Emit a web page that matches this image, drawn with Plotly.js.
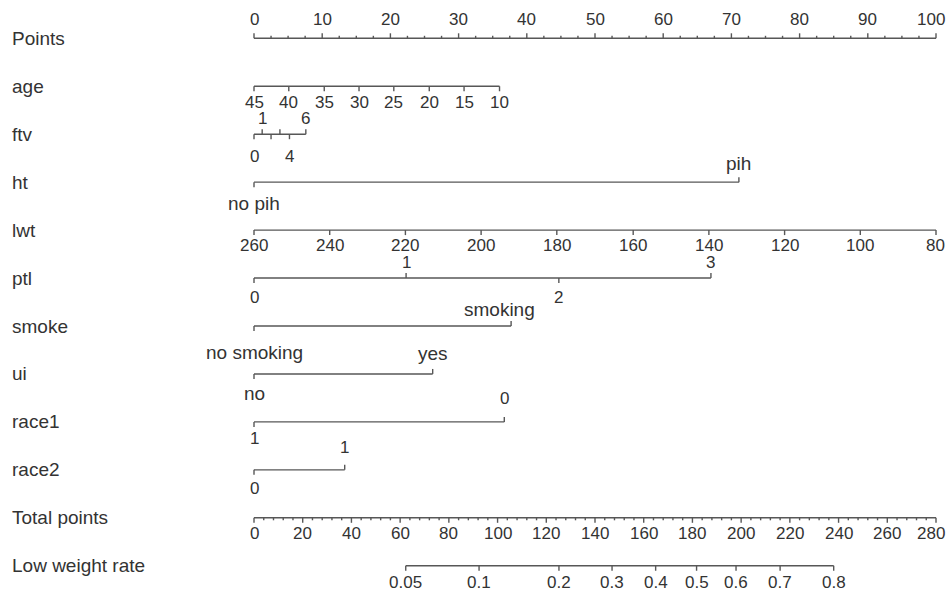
<!DOCTYPE html>
<html><head><meta charset="utf-8">
<script src="https://cdn.plot.ly/plotly-3.0.1.min.js"></script>
<style>html,body{margin:0;padding:0;background:#fff}#chart{width:946px;height:591px}</style>
</head><body><div id="chart"></div>
<script>
// ---------- data ----------
const rowNames = ['Points','age','ftv','ht','lwt','ptl','smoke','ui','race1','race2','Total points','Low weight rate'];

const pointsLabels = ['0','10','20','30','40','50','60','70','80','90','100'];
const pointsValues = [0,10,20,30,40,50,60,70,80,90,100];

const ageLabels = ['45','40','35','30','25','20','15','10'];
const agePoints = [0,5.1,10.3,15.4,20.5,25.7,30.8,36.0];

const ftvLabels = ['0','1','2','3','4','6'];
const ftvPoints = [0,1.2,2.5,3.8,5.2,7.6];
const ftvHiddenLabels = ['2','3'];

const htLabels = ['no pih','pih'];
const htPoints = [0,71.1];

const lwtLabels = ['260','240','220','200','180','160','140','120','100','80'];
const lwtPoints = [0,11.1,22.2,33.3,44.4,55.6,66.7,77.8,88.9,100];

const ptlLabels = ['0','1','2','3'];
const ptlPoints = [0,22.3,44.7,67.0];

const smokeLabels = ['no smoking','smoking'];
const smokePoints = [0,37.7];

const uiLabels = ['no','yes'];
const uiPoints = [0,26.2];

const race1Labels = ['1','0'];
const race1Points = [0,36.7];

const race2Labels = ['0','1'];
const race2Points = [0,13.3];

const totalLabels = ['0','20','40','60','80','100','120','140','160','180','200','220','240','260','280'];
const totalValues = [0,20,40,60,80,100,120,140,160,180,200,220,240,260,280];
const totalMax = 280;

const riskLabels = ['0.05','0.1','0.2','0.3','0.4','0.5','0.6','0.7','0.8'];
const riskTotalPoints = [62.3,92.4,125.2,147.0,164.9,181.7,197.9,216.0,238.0];

// ---------- layout constants ----------
const W = 946, H = 591;
const X0 = 254, PX_PER_PT = 6.82;        // pixel of 0 points, pixels per point
const ROW0 = 38.3, ROWH = 47.95;          // pixel of first axis line, row spacing
const LINE = '#575757', TEXT = '#333333';
const FONT = 'Liberation Sans, Arial, Helvetica, sans-serif';
const FS_NUM = 17, FS_WORD = 19;
const TICK = 5, MINOR = 2.5;              // tick lengths (px)

const traces = [];
const annotations = [];

function tickY(row, dir, len) { return row + (dir === 'up' ? -1 : 1) * len / ROWH; }

function addScale(row, pts, labels, mode, opts) {
  opts = opts || {};
  const hidden = opts.hidden || [];
  const offUp = opts.offUp || 18, offDown = opts.offDown || 18;
  const xshift = opts.xshift || {};
  const xs = [pts[0], pts[pts.length - 1], null];
  const ys = [row, row, null];
  pts.forEach((p, k) => {
    const dir = mode === 'alt' ? (k % 2 === 0 ? 'down' : 'up') : mode;
    xs.push(p, p, null);
    ys.push(row, tickY(row, dir, TICK), null);
    const lab = labels[k];
    if (hidden.indexOf(lab) === -1) {
      const numeric = /^[0-9.]+$/.test(lab);
      const fs = numeric ? FS_NUM : FS_WORD;
      // keep the label inside the picture
      const cx = X0 + p * PX_PER_PT;
      const halfW = lab.length * 0.556 * fs / 2;
      let sh = xshift[lab] || 0;
      if (cx + halfW > W - 1) sh = (W - 1) - (cx + halfW);
      annotations.push({
        xref: 'x', yref: 'y', x: p,
        y: row + (dir === 'up' ? -offUp : offDown) / ROWH,
        text: lab, showarrow: false, xanchor: 'center', yanchor: 'middle',
        xshift: sh, borderpad: 0,
        font: {family: FONT, size: fs, color: TEXT}
      });
    }
  });
  if (opts.minor) {
    opts.minor.forEach(p => {
      xs.push(p, p, null);
      ys.push(row, tickY(row, mode, MINOR), null);
    });
  }
  traces.push({type: 'scatter', mode: 'lines', x: xs, y: ys,
    line: {color: LINE, width: 1.4}, hoverinfo: 'skip', showlegend: false, cliponaxis: false});
}

// Points axis (minor ticks every 2.5 points)
const pointsMinor = [];
for (let v = 0; v <= 100; v += 2.5) if (v % 10 !== 0) pointsMinor.push(v);
addScale(0, pointsValues, pointsLabels, 'up', {minor: pointsMinor, offUp: 19});

addScale(1, agePoints, ageLabels, 'down', {offDown: 16});
addScale(2, ftvPoints, ftvLabels, 'alt', {hidden: ftvHiddenLabels, offUp: 16, offDown: 22});
addScale(3, htPoints, htLabels, 'alt', {offUp: 19, offDown: 21});
addScale(4, lwtPoints, lwtLabels, 'down', {offDown: 15});
addScale(5, ptlPoints, ptlLabels, 'alt', {offUp: 16, offDown: 19});
addScale(6, smokePoints, smokeLabels, 'alt', {offUp: 17, offDown: 26, xshift: {'smoking': -12}});
addScale(7, uiPoints, uiLabels, 'alt', {offUp: 20, offDown: 20});
addScale(8, race1Points, race1Labels, 'alt', {offUp: 23, offDown: 17});
addScale(9, race2Points, race2Labels, 'alt', {offUp: 22, offDown: 19});

// Total points axis: same width as the 0-100 points axis
const toPts = tp => tp * 100 / totalMax;
const totalMinor = [];
for (let v = 0; v <= totalMax; v += 4) if (v % 20 !== 0) totalMinor.push(toPts(v));
addScale(10, totalValues.map(toPts), totalLabels, 'down', {minor: totalMinor, offDown: 16});

addScale(11, riskTotalPoints.map(toPts), riskLabels, 'down', {offDown: 17});

// Row names
rowNames.forEach((name, i) => {
  annotations.push({
    xref: 'paper', yref: 'y', x: 11 / W, y: i, text: name, showarrow: false,
    xanchor: 'left', yanchor: 'middle', borderpad: 0,
    font: {family: FONT, size: FS_WORD, color: TEXT}
  });
});

const layout = {
  width: W, height: H,
  margin: {l: 0, r: 0, t: 0, b: 0, pad: 0},
  paper_bgcolor: '#ffffff', plot_bgcolor: '#ffffff',
  xaxis: {range: [-X0 / PX_PER_PT, (W - X0) / PX_PER_PT], visible: false, fixedrange: true},
  yaxis: {range: [11 + (H - (ROW0 + 11 * ROWH)) / ROWH, -ROW0 / ROWH], visible: false, fixedrange: true},
  showlegend: false,
  hovermode: false,
  annotations: annotations
};

Plotly.newPlot('chart', traces, layout, {displayModeBar: false, staticPlot: true});
</script>
</body></html>
